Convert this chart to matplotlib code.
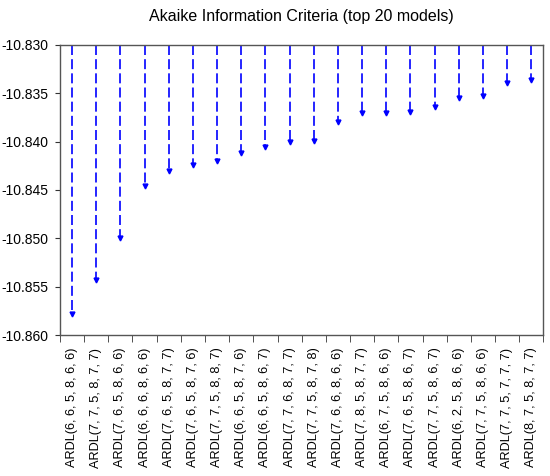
import numpy as np
import matplotlib
matplotlib.use('Agg')
import matplotlib.pyplot as plt

plt.rcParams['font.family'] = ['Liberation Sans', 'DejaVu Sans']

# top 20 models and their AIC values
models = [
    'ARDL(6, 6, 5, 8, 6, 6)', 'ARDL(7, 7, 5, 8, 7, 7)', 'ARDL(7, 6, 5, 8, 6, 6)',
    'ARDL(6, 6, 6, 8, 6, 6)', 'ARDL(7, 6, 5, 8, 7, 7)', 'ARDL(7, 6, 5, 8, 7, 6)',
    'ARDL(7, 7, 5, 8, 8, 7)', 'ARDL(6, 6, 5, 8, 7, 6)', 'ARDL(6, 6, 5, 8, 6, 7)',
    'ARDL(7, 7, 6, 8, 7, 7)', 'ARDL(7, 7, 5, 8, 7, 8)', 'ARDL(7, 6, 6, 8, 6, 6)',
    'ARDL(7, 8, 5, 8, 7, 7)', 'ARDL(6, 7, 5, 8, 6, 6)', 'ARDL(7, 6, 5, 8, 6, 7)',
    'ARDL(7, 7, 5, 8, 6, 7)', 'ARDL(6, 2, 5, 8, 6, 6)', 'ARDL(7, 7, 5, 8, 6, 6)',
    'ARDL(7, 7, 5, 7, 7, 7)', 'ARDL(8, 7, 5, 8, 7, 7)',
]
aic = [-10.8578, -10.8543, -10.8500, -10.8446, -10.8430, -10.8424, -10.8420,
       -10.8412, -10.8406, -10.8401, -10.8399, -10.8380, -10.8371, -10.8371,
       -10.8369, -10.8364, -10.8355, -10.8353, -10.8340, -10.8336]

y_top = -10.830
y_bot = -10.860

fig = plt.figure(figsize=(5.5, 4.76), dpi=100)
ax = fig.add_axes([0.109, 0.296, 0.879, 0.61])

x = np.arange(len(models))
for xi, v in zip(x, aic):
    ax.plot([xi, xi], [y_top, v], color='#0000ff', lw=1.2, ls=(0, (6, 2.5)))
ax.plot(x, aic, ls='none', marker='v', ms=3.5, color='#0000ff')

yt = np.arange(-10.860, -10.8299, 0.005)
ax.set_xlim(-0.5, len(models) - 0.5)
ax.set_ylim(y_bot, y_top)
ax.set_yticks(yt)
ax.set_yticklabels(['%.3f' % t for t in yt])
ax.set_xticks(x)
ax.set_xticklabels(models, rotation=90)
ax.set_xticks(np.arange(-0.5, len(models)), minor=True)
ax.tick_params(axis='x', which='major', length=0, labelsize=9.2, pad=9)
ax.tick_params(axis='x', which='minor', length=5, color='#333333')
ax.tick_params(axis='y', length=3.5, labelsize=10, pad=5, color='#333333')
for s in ax.spines.values():
    s.set_color('#555555')
    s.set_linewidth(1.0)

ax.set_title('Akaike Information Criteria (top 20 models)', fontsize=11.5, pad=17)

fig.savefig('out.png', dpi=100)
